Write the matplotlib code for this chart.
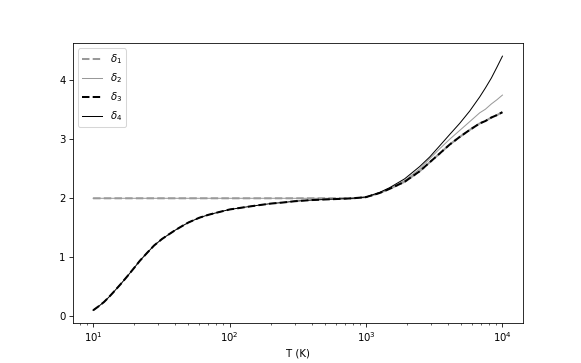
import matplotlib
matplotlib.use("Agg")
import matplotlib.pyplot as plt
import numpy as np

# temperature grid (K)
T_low = [10, 11, 12, 13, 14, 16, 18, 20, 22, 25, 28, 32, 36, 40, 45, 50, 60, 70,
         85, 100, 130, 160, 200, 250, 300, 400, 500, 650, 800]
T_high = [1000, 1260, 1490, 1920, 2480, 2930, 3470, 4100, 4860, 5760, 6820, 7500,
          8300, 9100, 10000]

# low-T part: d1, d2 flat at 2, d3, d4 share the same rise
flat_low = [2.0] * len(T_low)
rise_low = [0.10, 0.17, 0.24, 0.32, 0.40, 0.55, 0.69, 0.82, 0.94, 1.08, 1.20, 1.31, 1.39,
            1.46, 1.53, 1.59, 1.67, 1.72, 1.77, 1.81, 1.85, 1.88, 1.91, 1.93, 1.95,
            1.97, 1.98, 1.99, 2.00]

# high-T part
d13_high = [2.02, 2.09, 2.16, 2.28, 2.46, 2.61, 2.76, 2.91, 3.04, 3.16, 3.27, 3.31,
            3.37, 3.41, 3.46]
d2_high = [2.02, 2.09, 2.17, 2.30, 2.50, 2.67, 2.84, 3.00, 3.15, 3.30, 3.45, 3.51,
           3.60, 3.67, 3.75]
d4_high = [2.02, 2.10, 2.18, 2.33, 2.54, 2.70, 2.89, 3.08, 3.27, 3.48, 3.72, 3.87,
           4.04, 4.22, 4.41]

T = np.array(T_low + T_high)
d1 = np.array(flat_low + d13_high)
d2 = np.array(flat_low + d2_high)
d3 = np.array(rise_low + d13_high)
d4 = np.array(rise_low + d4_high)

fig, ax = plt.subplots(figsize=(8, 5), dpi=72.625)
ax.plot(T, d1, '--', color='#999999', lw=2, label=r'$\delta_1$')
ax.plot(T, d2, '-', color='#999999', lw=1, label=r'$\delta_2$')
ax.plot(T, d3, '--', color='black', lw=2, label=r'$\delta_3$')
ax.plot(T, d4, '-', color='black', lw=1, label=r'$\delta_4$')
ax.set_xscale('log')
ax.set_xlabel('T (K)')
ax.legend(loc='upper left')

fig.savefig('out.png', dpi=72.625)
